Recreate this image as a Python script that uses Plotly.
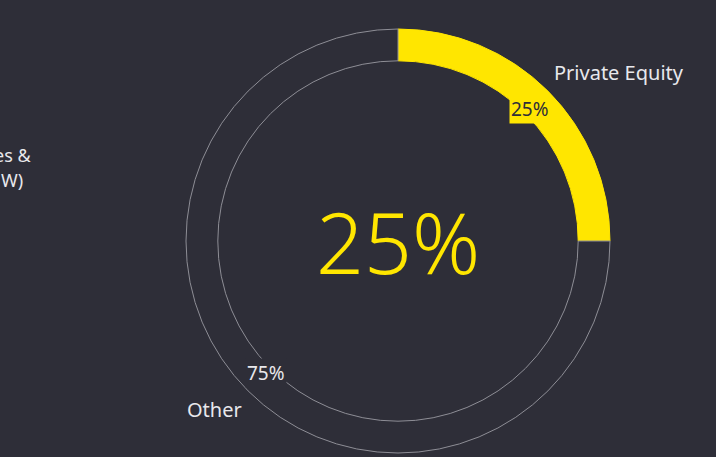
import math
import plotly.graph_objects as go

labels = ["Private Equity", "Other"]
values = [25, 75]
pct_text = ["25%", "75%"]
center_text = "25%"
left_fragments = ["es &", "W)"]

W, H = 716, 457
BG = "#2e2e38"
YEL = "#ffe600"
GRID = "#8e8e96"
TXT = "#e8e8ec"
FONT = "Noto Sans"

# pie geometry in pixels
cx, cy, R = 398, 241, 212
hole = 0.85

dom_x = [(cx - R) / W, (cx + R) / W]
dom_y = [1 - (cy + R) / H, 1 - (cy - R) / H]

fig = go.Figure(go.Pie(
    labels=labels, values=values, sort=False, direction="clockwise", rotation=0,
    hole=hole, textinfo="none", hoverinfo="label+percent",
    marker=dict(colors=[YEL, BG], line=dict(color=[YEL, GRID], width=1)),
    domain=dict(x=dom_x, y=dom_y), showlegend=False,
))

def to_paper(px, py):
    return px / W, 1 - py / H

annotations = []
total = sum(values)
cum = 0
r_pct = 187
r_lab_x, r_lab_y = 218, 239
label_bg = [YEL, BG]
label_fc = [BG, TXT]
for i, v in enumerate(values):
    mid = (cum + v / 2) / total * 2 * math.pi
    cum += v
    sx, sy = math.sin(mid), -math.cos(mid)
    x, y = to_paper(cx + r_pct * sx, cy + r_pct * sy)
    annotations.append(dict(x=x, y=y, xref="paper", yref="paper", text=pct_text[i],
                            xanchor="center", yanchor="middle",
                            showarrow=False, bgcolor=label_bg[i], borderpad=1,
                            font=dict(family=FONT, size=19, color=label_fc[i])))
    x, y = to_paper(cx + r_lab_x * sx, cy + r_lab_y * sy)
    annotations.append(dict(x=x, y=y, xref="paper", yref="paper", text=labels[i],
                            xanchor="left" if sx > 0 else "right", yanchor="middle",
                            showarrow=False,
                            font=dict(family=FONT, size=20, color=TXT)))

x, y = to_paper(cx, cy)
annotations.append(dict(x=x, y=y, xref="paper", yref="paper", text=center_text,
                        xanchor="center", yanchor="middle", showarrow=False,
                        font=dict(family=FONT, size=84, color=YEL, weight=300)))

for j, t in enumerate(left_fragments):
    x, y = to_paper(33 if j == 0 else 25, 155 + 25 * j)
    annotations.append(dict(x=x, y=y, xref="paper", yref="paper", text=t,
                            xanchor="right", yanchor="middle", showarrow=False,
                            font=dict(family=FONT, size=18, color=TXT)))

fig.update_layout(width=W, height=H, margin=dict(l=0, r=0, t=0, b=0),
                  paper_bgcolor=BG, plot_bgcolor=BG, annotations=annotations)
fig.write_html("out.html")
